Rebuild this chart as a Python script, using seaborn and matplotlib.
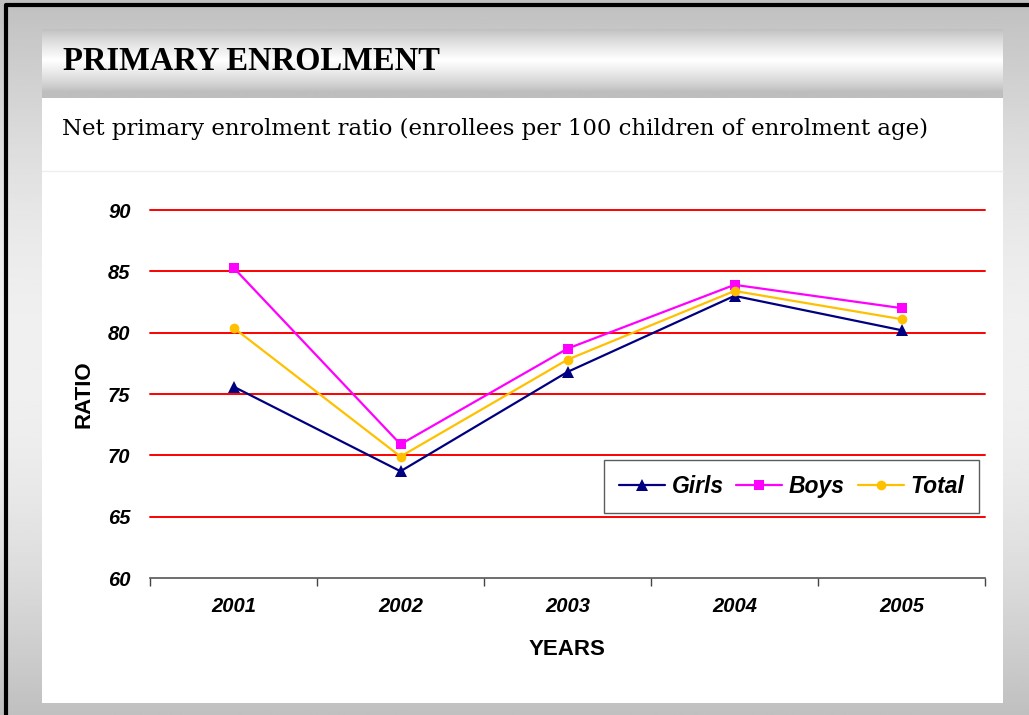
import numpy as np
import pandas as pd
import matplotlib
matplotlib.use('Agg')
import matplotlib.pyplot as plt
import seaborn as sns
from matplotlib.ticker import FixedLocator

# Data
years = [2001, 2002, 2003, 2004, 2005]
girls = [75.6, 68.7, 76.8, 83.0, 80.2]
boys = [85.3, 70.9, 78.7, 83.9, 82.0]
total = [80.4, 69.9, 77.8, 83.4, 81.1]
y_ticks = [60, 65, 70, 75, 80, 85, 90]

df = pd.DataFrame({'Year': years, 'Girls': girls, 'Boys': boys, 'Total': total})

sns.set_style('white')
plt.rcParams['font.family'] = ['Liberation Sans', 'DejaVu Sans']
plt.rcParams['text.color'] = 'black'
plt.rcParams['axes.labelcolor'] = 'black'
plt.rcParams['xtick.color'] = 'black'
plt.rcParams['ytick.color'] = 'black'

W, H = 1029, 715
fig = plt.figure(figsize=(W / 100, H / 100), dpi=100)

# background / slide frame
bg = fig.add_axes([0, 0, 1, 1], zorder=-10)
bg.axis('off')

t = np.linspace(0, 1, 256)
outer = 192 + 48 * np.sin(np.pi * t)
outer = np.clip(outer, 0, 255) / 255.0
bg.imshow(np.tile(outer[:, None], (1, 2)), cmap='gray', vmin=0, vmax=1,
          extent=[0, W, H, 0], aspect='auto')

band = 190 + 65 * np.clip(1 - np.abs(t - 0.45) / 0.45, 0, 1) ** 0.8
band = band / 255.0
bg.imshow(np.tile(band[:, None], (1, 2)), cmap='gray', vmin=0, vmax=1,
          extent=[42, 1003, 98, 29], aspect='auto')
bg.add_patch(plt.Rectangle((42, 98), 961, 605, facecolor='white', edgecolor='none'))
bg.plot([42, 1003], [171, 171], color='#eeeeee', lw=1)
bg.plot([6, 6, W], [H, 5, 5], color='black', lw=3, solid_capstyle='butt')
bg.set_xlim(0, W)
bg.set_ylim(H, 0)

fig.text(63 / W, 1 - 61 / H, 'PRIMARY ENROLMENT', family='Liberation Serif',
         fontweight='bold', fontsize=23.5, va='center', ha='left')
fig.text(62 / W, 1 - 129 / H,
         'Net primary enrolment ratio (enrollees per 100 children of enrolment age)',
         family='DejaVu Serif', fontsize=16.5, va='center', ha='left')

# main chart
ax = fig.add_axes([150 / W, 1 - 578 / H, 835 / W, 368 / H])
ax.set_facecolor('none')

sns.lineplot(data=df, x='Year', y='Girls', ax=ax, color='#000080', marker='^',
             markersize=8, markeredgewidth=0, linewidth=1.6, label='Girls')
sns.lineplot(data=df, x='Year', y='Boys', ax=ax, color='#FF00FF', marker='s',
             markersize=7, markeredgewidth=0, linewidth=1.6, label='Boys')
sns.lineplot(data=df, x='Year', y='Total', ax=ax, color='#FFC000', marker='o',
             markersize=7, markeredgewidth=0, linewidth=1.6, label='Total')

for v in y_ticks[1:]:
    ax.axhline(v, color='#FF0000', lw=1.4, zorder=0, clip_on=False)

ax.set_ylim(y_ticks[0], y_ticks[-1])
ax.set_xlim(years[0] - 0.5, years[-1] + 0.5)
ax.set_yticks(y_ticks)
ax.set_xticks(years)
ax.xaxis.set_minor_locator(FixedLocator([y - 0.5 for y in years] + [years[-1] + 0.5]))
ax.tick_params(axis='x', which='major', length=0, pad=14)
ax.tick_params(axis='x', which='minor', length=6, width=1, color='#444444', bottom=True)
ax.tick_params(axis='y', length=0, pad=14)
for lab in ax.get_xticklabels() + ax.get_yticklabels():
    lab.set_fontweight('bold')
    lab.set_fontstyle('italic')
    lab.set_fontsize(14.5)

for s in ['top', 'right', 'left']:
    ax.spines[s].set_visible(False)
ax.spines['bottom'].set_color('#555555')
ax.spines['bottom'].set_linewidth(1.2)

ax.set_xlabel('YEARS', fontsize=16, fontweight='bold', labelpad=16)
ax.set_ylabel('RATIO', fontsize=16, fontweight='bold', labelpad=10)

leg = ax.legend(loc='lower right', bbox_to_anchor=(0.993, 0.177), ncol=3,
                frameon=True, fancybox=False, handlelength=2.0, handletextpad=0.3,
                columnspacing=0.55, borderpad=0.65, borderaxespad=0,
                prop={'weight': 'bold', 'style': 'italic', 'size': 16.5})
leg.get_frame().set_edgecolor('#333333')
leg.get_frame().set_linewidth(1.0)

fig.savefig('out.png', dpi=100)
